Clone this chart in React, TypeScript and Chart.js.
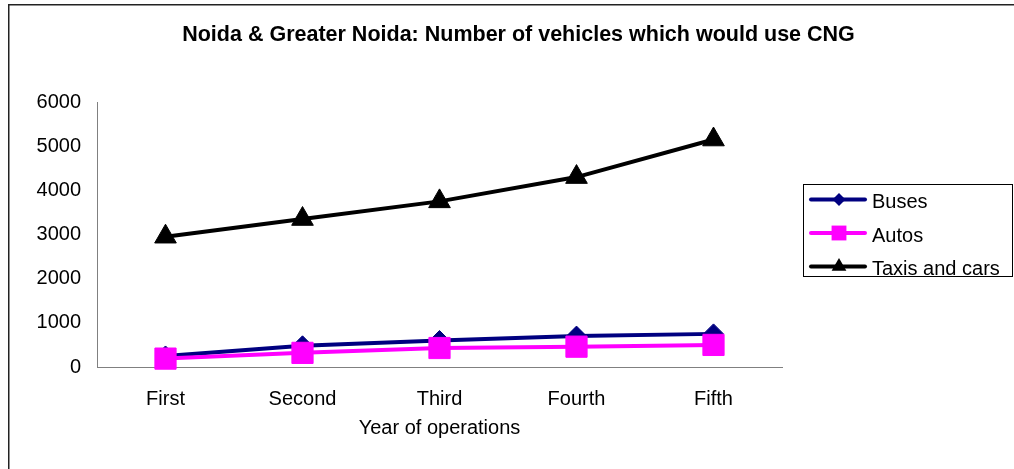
import React, { useEffect, useRef } from "react";
import { Chart, registerables } from "chart.js";

Chart.register(...registerables);

const categories = ["First", "Second", "Third", "Fourth", "Fifth"];
const busesValues = [250, 480, 600, 700, 750];
const autosValues = [190, 320, 430, 460, 500];
const taxisValues = [2950, 3350, 3750, 4300, 5150];
const yTicks = [0, 1000, 2000, 3000, 4000, 5000, 6000];
const chartTitle = "Noida & Greater Noida: Number of vehicles which would use CNG";
const xTitle = "Year of operations";

const FONT = "'Liberation Sans', Arial, sans-serif";

function drawMarker(ctx: CanvasRenderingContext2D, style: string, x: number, y: number, r: number, color: string) {
  ctx.save();
  ctx.fillStyle = color;
  ctx.beginPath();
  if (style === "rectRot") {
    ctx.moveTo(x - r, y);
    ctx.lineTo(x, y - r);
    ctx.lineTo(x + r, y);
    ctx.lineTo(x, y + r);
  } else if (style === "rect") {
    const s = r * Math.SQRT1_2;
    ctx.rect(x - s, y - s, 2 * s, 2 * s);
  } else {
    ctx.moveTo(x, y - r);
    ctx.lineTo(x + r * 0.866, y + r * 0.5);
    ctx.lineTo(x - r * 0.866, y + r * 0.5);
  }
  ctx.closePath();
  ctx.fill();
  ctx.restore();
}

const decorPlugin = {
  id: "decor",
  afterDraw(chart: any) {
    const ctx: CanvasRenderingContext2D = chart.ctx;
    ctx.save();
    // outer frame (partially cropped)
    ctx.strokeStyle = "#222";
    ctx.lineWidth = 1.5;
    ctx.strokeRect(8.75, 4.75, 1200, 1000);
    // title
    ctx.fillStyle = "#000";
    ctx.font = `bold 21.5px ${FONT}`;
    ctx.textAlign = "center";
    ctx.textBaseline = "alphabetic";
    ctx.fillText(chartTitle, 518.5, 41);
    // legend box
    ctx.strokeStyle = "#000";
    ctx.lineWidth = 1;
    ctx.strokeRect(803.5, 184.5, 209, 92);
    const rowY = [199.5, 233, 266.5];
    const legendR = [6.5, 10.5, 8.5];
    chart.data.datasets.forEach((ds: any, i: number) => {
      const y = rowY[i];
      ctx.strokeStyle = ds.borderColor;
      ctx.lineWidth = 4;
      ctx.lineCap = "round";
      ctx.beginPath();
      ctx.moveTo(811, y);
      ctx.lineTo(865, y);
      ctx.stroke();
      drawMarker(ctx, ds.pointStyle, 839, y, legendR[i], ds.borderColor);
      ctx.fillStyle = "#000";
      ctx.font = `20px ${FONT}`;
      ctx.textAlign = "left";
      ctx.textBaseline = "alphabetic";
      ctx.fillText(ds.label, 872, y + 8.5);
    });
    ctx.restore();
  },
};

export default function App() {
  const ref = useRef<HTMLCanvasElement | null>(null);
  useEffect(() => {
    if (!ref.current) return;
    const chart = new Chart(ref.current, {
      type: "line",
      data: {
        labels: categories,
        datasets: [
          {
            label: "Buses",
            data: busesValues,
            borderColor: "#000080",
            backgroundColor: "#000080",
            pointBackgroundColor: "#000080",
            pointBorderColor: "#000080",
            borderWidth: 4,
            pointStyle: "rectRot",
            pointRadius: 10,
            pointBorderWidth: 1,
            order: 1,
            clip: false,
          },
          {
            label: "Autos",
            data: autosValues,
            borderColor: "#FF00FF",
            backgroundColor: "#FF00FF",
            pointBackgroundColor: "#FF00FF",
            pointBorderColor: "#FF00FF",
            borderWidth: 4,
            pointStyle: "rect",
            pointRadius: 15,
            pointBorderWidth: 1,
            order: 0,
            clip: false,
          },
          {
            label: "Taxis and cars",
            data: taxisValues,
            borderColor: "#000000",
            backgroundColor: "#000000",
            pointBackgroundColor: "#000000",
            pointBorderColor: "#000000",
            borderWidth: 4,
            pointStyle: "triangle",
            pointRadius: 12.5,
            pointBorderWidth: 1,
            order: 0,
            clip: false,
          },
        ] as any,
      },
      plugins: [decorPlugin],
      options: {
        responsive: false,
        animation: false,
        layout: { padding: { top: 102, right: 232, left: 0, bottom: 0 } },
        plugins: {
          legend: { display: false },
          title: { display: false },
          tooltip: { enabled: false },
        },
        elements: { line: { tension: 0 } },
        scales: {
          x: {
            type: "category",
            offset: true,
            grid: { display: false, drawTicks: false },
            border: { display: true, color: "#808080", width: 1 },
            ticks: { color: "#000", font: { family: FONT, size: 20 }, padding: 20, maxRotation: 0 },
            title: {
              display: true,
              text: xTitle,
              color: "#000",
              font: { family: FONT, size: 20 },
              padding: { top: 0, bottom: 29 },
            },
            afterFit: (s: any) => {
              s.height = 102;
            },
          },
          y: {
            min: 0,
            max: 6000,
            afterBuildTicks: (s: any) => {
              s.ticks = yTicks.map((v) => ({ value: v }));
            },
            grid: { display: false, drawTicks: false },
            border: { display: true, color: "#808080", width: 1 },
            ticks: {
              color: "#000",
              font: { family: FONT, size: 20 },
              padding: 16,
              callback: (v: any) => String(v),
            },
            afterFit: (s: any) => {
              s.width = 97;
            },
          },
        },
      } as any,
    });
    return () => chart.destroy();
  }, []);
  return (
    <div style={{ position: "absolute", left: 0, top: 0, width: 1014, height: 469, background: "#fff" }}>
      <canvas ref={ref} width={1014} height={469} style={{ width: 1014, height: 469, display: "block" }} />
    </div>
  );
}
